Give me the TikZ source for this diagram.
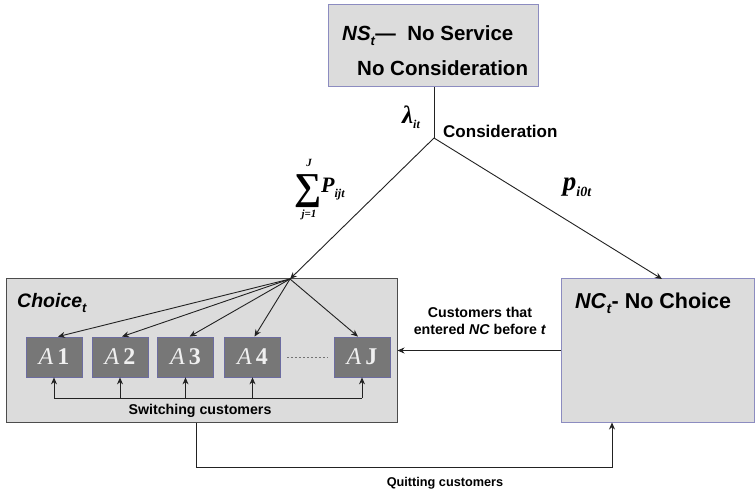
\documentclass[tikz,border=0pt]{standalone}
\usepackage{fontspec}
\setmainfont{Liberation Sans}
\newfontfamily\tms{Liberation Serif}
\usetikzlibrary{arrows.meta}
\definecolor{boxfill}{HTML}{DCDCDC}
\definecolor{boxline}{HTML}{8C8CC0}
\definecolor{altfill}{HTML}{777777}
\definecolor{altline}{HTML}{6C6CA0}
\definecolor{wire}{HTML}{222222}
\tikzset{
  stage/.style={draw=boxline, fill=boxfill, line width=1pt, rectangle, inner sep=0pt},
  altbox/.style={draw=altline, fill=altfill, line width=0.8pt, rectangle, inner sep=0pt,
    minimum width=56pt, minimum height=40pt, text=white!94!black,
    font=\tms\fontsize{24}{26}\selectfont},
  flow/.style={draw=wire, line width=0.9pt},
  arr/.style={flow, -{Stealth[length=7pt,width=6pt]}},
  lbl/.style={inner sep=0pt, font=\bfseries\fontsize{14.2}{17}\selectfont},
  sym/.style={inner sep=0pt, font=\tms\bfseries\itshape},
}
\newcommand{\altname}[1]{\textit{A}\,\textbf{#1}}
\newcommand{\lowidx}[2]{\raisebox{-0.45ex}{\fontsize{#1}{#1}\selectfont #2}}
\begin{document}
\begin{tikzpicture}[x=1pt, y=-1pt]
\useasboundingbox (0,0) rectangle (755,494);
\fill[white] (0,0) rectangle (755,494);

% the three stages
\node[stage, minimum width=210pt, minimum height=82pt] (ns) at (433,46) {};
\node[stage, draw=black!70, minimum width=391pt, minimum height=143pt] (choice) at (201.5,350.5) {};
\node[stage, minimum width=193pt, minimum height=143pt] (nc) at (657.5,350.5) {};

\node[anchor=west, inner sep=0pt, font=\bfseries\fontsize{20.5}{24}\selectfont] (nsa) at (342,36)
  {\textit{NS}\lowidx{13}{\textit{t}}\textemdash\ \ No Service};
\node[anchor=west, inner sep=0pt, font=\bfseries\fontsize{20.5}{24}\selectfont] (nsb) at (357,68)
  {No Consideration};
\node[anchor=west, inner sep=0pt, font=\bfseries\fontsize{19.5}{22}\selectfont] (cht) at (17,303)
  {\textit{Choice}\lowidx{13}{\textit{t}}};
\node[anchor=west, inner sep=0pt, font=\bfseries\fontsize{21.5}{24}\selectfont] (nct) at (575,303)
  {\textit{NC}\lowidx{14}{\textit{t}}- No Choice};

% alternatives
\node[altbox] (a1) at (54,357) {\altname{1}};
\node[altbox] (a2) at (120,357) {\altname{2}};
\node[altbox] (a3) at (185.5,357) {\altname{3}};
\node[altbox] (a4) at (252.5,357) {\altname{4}};
\node[altbox] (aj) at (362,357) {\altname{J}};
\draw[black!55, dash pattern=on 2.5pt off 1.5pt, line width=0.9pt]
  ([xshift=6pt]a4.east) -- ([xshift=-6pt]aj.west);

% branching from the top stage
\coordinate (split) at (434,138);
\coordinate (hub) at (290,279);
\coordinate (ncin) at (662,279);
\draw[flow] (ns.south -| split) -- (split);
\draw[arr] (split) -- (hub);
\draw[arr] (split) -- (ncin);

\node[sym, font=\tms\bfseries\itshape\fontsize{25}{26}\selectfont] (lam) at (411,117)
  {λ\lowidx{12}{it}};
\node[lbl, anchor=west, font=\bfseries\fontsize{17}{20}\selectfont] (cons) at (443,131) {Consideration};

% summation label on the left branch
\node[sym, font=\tms\bfseries\fontsize{38}{38}\selectfont] (sig) at (308,191) {∑};
\node[sym, font=\tms\bfseries\itshape\fontsize{11}{11}\selectfont] (sigup) at (309,163) {J};
\node[sym, font=\tms\bfseries\itshape\fontsize{11}{11}\selectfont] (siglo) at (309,215) {j=1};
\node[sym, anchor=west, font=\tms\bfseries\itshape\fontsize{22}{22}\selectfont] (pij) at (321,189)
  {P\lowidx{12}{ijt}};
\node[sym, font=\tms\bfseries\itshape\fontsize{27}{28}\selectfont] (p0) at (577,187)
  {p\lowidx{14}{i0t}};

% from the hub to each alternative
\draw[arr] (hub) -- ([xshift=4pt]a1.north);
\draw[arr] (hub) -- ([xshift=2pt]a2.north);
\draw[arr] (hub) -- ([xshift=4pt]a3.north);
\draw[arr] (hub) -- ([xshift=2pt]a4.north);
\draw[arr] (hub) -- ([xshift=-4pt]aj.north);

% switching customers
\coordinate (swl) at (54,398);
\coordinate (swr) at (362,398);
\draw[flow] (swl) -- (swr);
\foreach \a in {a1,a2,a3,a4,aj}{
  \draw[arr] (\a.south |- swl) -- (\a.south);
}
\node[lbl] (swt) at (200,411) {Switching customers};

% customers coming back from the no-choice stage
\draw[arr] (nc.west) -- (choice.east);
\node[lbl, align=center] (back) at (480,321)
  {Customers that\\entered \textit{NC} before \textit{t}};

% quitting customers
\coordinate (q1) at (196,467);
\coordinate (q2) at (612,467);
\draw[arr] (choice.south -| q1) -- (q1) -- (q2) -- (nc.south -| q2);
\node[lbl, font=\bfseries\fontsize{12.7}{15}\selectfont] (qt) at (445,483) {Quitting customers};
\end{tikzpicture}
\end{document}
